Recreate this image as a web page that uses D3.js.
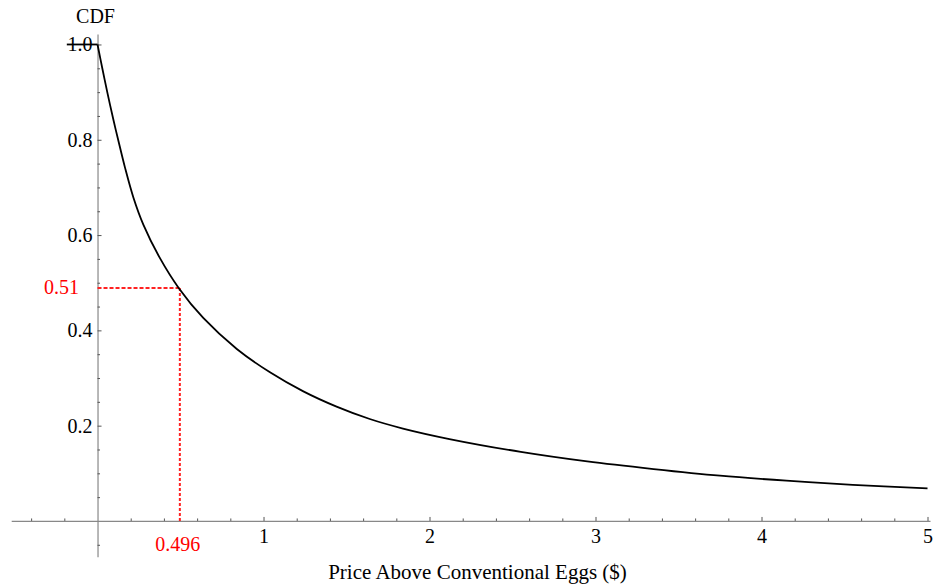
<!DOCTYPE html>
<meta charset="utf-8">
<script src="https://d3js.org/d3.v7.min.js"></script>
<style>
  body { margin: 0; background: #fff; }
</style>
<div id="chart"></div>
<script>
    // curve (price above conventional, share)
    var priceVals = [0, 0.03, 0.06, 0.095, 0.125, 0.166, 0.216, 0.276, 0.377, 0.491, 0.637, 0.839, 1.039,
                     1.24, 1.44, 1.64, 1.84, 2.12, 2.55, 2.95, 3.35, 3.75, 4.15, 4.55, 5.0];
    var cdfVals   = [1.0, 0.948, 0.898, 0.843, 0.799, 0.741, 0.679, 0.622, 0.551, 0.488, 0.426, 0.361, 0.312,
                     0.272, 0.24, 0.214, 0.194, 0.172, 0.145, 0.125, 0.109, 0.095, 0.0845, 0.0758, 0.0686];
    // flat bit left of zero at 1.0
    var plateauX = [-0.185, 0];
    var plateauY = [1.0, 1.0];

    var xMajor = [1, 2, 3, 4, 5];
    var xMinor = [-0.4, -0.2, 0.2, 0.4, 0.6, 0.8, 1.2, 1.4, 1.6, 1.8, 2.2, 2.4, 2.6, 2.8,
                  3.2, 3.4, 3.6, 3.8, 4.2, 4.4, 4.6, 4.8];
    var yMajor = [0.2, 0.4, 0.6, 0.8, 1.0];
    var yMinor = [-0.05, 0.05, 0.1, 0.15, 0.25, 0.3, 0.35, 0.45, 0.5, 0.55, 0.65, 0.7, 0.75, 0.85, 0.9, 0.95];

    // the marked point
    var markX = 0.496, markY = 0.489;
    var markXLabel = "0.496", markYLabel = "0.51";

    var width = 935, height = 585;
    var serif = "'Liberation Serif', Tinos, 'DejaVu Serif', serif";

    var svg = d3.select("#chart").append("svg")
        .attr("width", width)
        .attr("height", height)
        .attr("font-family", serif);

    var x = d3.scaleLinear().domain([-0.52, 5.015]).range([11.2, 930]);
    var y = d3.scaleLinear().domain([-0.075, 1.022]).range([556.7, 34]);

    var axisColor = "#888";

    function styleAxis(g) {
        g.attr("font-family", serif).attr("font-size", 20);
        g.selectAll("path.domain").attr("stroke", axisColor).attr("stroke-width", 1.2);
        g.selectAll(".tick line").attr("stroke", "#555");
        g.selectAll("text").attr("fill", "#000");
    }

    // x axis
    var gx = svg.append("g").attr("transform", "translate(0," + y(0) + ")");
    gx.call(d3.axisBottom(x).tickValues(xMajor).tickSize(-4).tickSizeOuter(0).tickPadding(8)
        .tickFormat(d3.format("d")));
    styleAxis(gx);
    var gxm = svg.append("g").attr("transform", "translate(0," + y(0) + ")");
    gxm.call(d3.axisBottom(x).tickValues(xMinor).tickSize(-2.5).tickFormat(""));
    gxm.select("path.domain").remove();
    gxm.selectAll(".tick line").attr("stroke", "#555");

    // y axis
    var gy = svg.append("g").attr("transform", "translate(" + x(0) + ",0)");
    gy.call(d3.axisLeft(y).tickValues(yMajor).tickSize(-4).tickSizeOuter(0).tickPadding(5)
        .tickFormat(d3.format(".1f")));
    styleAxis(gy);
    var gym = svg.append("g").attr("transform", "translate(" + x(0) + ",0)");
    gym.call(d3.axisLeft(y).tickValues(yMinor).tickSize(-2.5).tickFormat(""));
    gym.select("path.domain").remove();
    gym.selectAll(".tick line").attr("stroke", "#555");

    // red guide lines
    svg.append("line")
        .attr("x1", x(0)).attr("x2", x(markX))
        .attr("y1", y(markY)).attr("y2", y(markY))
        .attr("stroke", "#f22").attr("stroke-width", 2)
        .attr("stroke-dasharray", "4,2");
    svg.append("line")
        .attr("x1", x(markX)).attr("x2", x(markX))
        .attr("y1", y(markY)).attr("y2", y(0))
        .attr("stroke", "#f22").attr("stroke-width", 2)
        .attr("stroke-dasharray", "3,2");

    svg.append("text")
        .attr("x", x(markX) - 2).attr("y", y(0) + 30)
        .attr("text-anchor", "middle")
        .attr("fill", "#f00").attr("font-size", 20)
        .text(markXLabel);
    svg.append("text")
        .attr("x", 79).attr("y", y(markY)).attr("dy", "0.32em")
        .attr("text-anchor", "end")
        .attr("fill", "#f00").attr("font-size", 20)
        .text(markYLabel);

    // curve
    var line = d3.line()
        .x(function(d) { return x(d[0]); })
        .y(function(d) { return y(d[1]); });

    svg.append("path")
        .datum(d3.zip(plateauX, plateauY))
        .attr("fill", "none").attr("stroke", "#000").attr("stroke-width", 1.8)
        .attr("d", line);

    svg.append("path")
        .datum(d3.zip(priceVals, cdfVals))
        .attr("fill", "none").attr("stroke", "#000").attr("stroke-width", 1.8)
        .attr("d", line.curve(d3.curveCatmullRom.alpha(0.5)));

    // titles
    svg.append("text")
        .attr("x", x(0) - 2).attr("y", 23)
        .attr("text-anchor", "middle")
        .attr("font-size", 20)
        .text("CDF");

    svg.append("text")
        .attr("x", 477.5).attr("y", 579)
        .attr("text-anchor", "middle")
        .attr("font-size", 21)
        .text("Price Above Conventional Eggs ($)");
</script>
